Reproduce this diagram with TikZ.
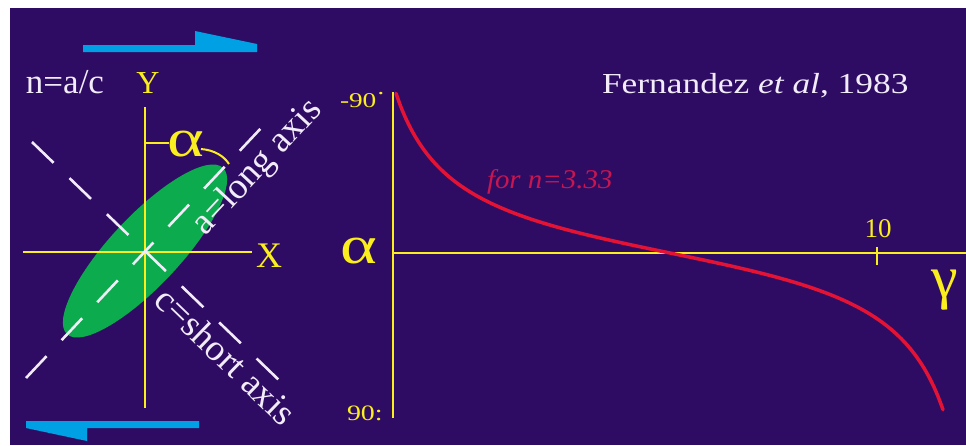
\documentclass[tikz,border=0pt]{standalone}
\usepackage{fontspec}
\setmainfont{Liberation Serif}
\definecolor{bgpurple}{RGB}{47,12,99}
\definecolor{ylw}{RGB}{250,238,30}
\definecolor{skyblue}{RGB}{0,160,228}
\definecolor{ellgreen}{RGB}{12,172,78}
\definecolor{crvred}{RGB}{228,18,52}
\definecolor{lblred}{RGB}{200,22,80}
\definecolor{txtwhite}{RGB}{242,236,250}
\begin{document}
\begin{tikzpicture}[x=1pt,y=-1pt,
  lbl/.style={inner sep=0pt, outer sep=0pt},
  whitetxt/.style={lbl, text=txtwhite},
  yeltxt/.style={lbl, text=ylw},
  bigsym/.style={yeltxt, font=\fontsize{54}{60}\selectfont},
  dashaxis/.style={draw=txtwhite, line width=2.6pt, dash pattern=on 30pt off 22pt},
  thinaxis/.style={draw=ylw, line width=1.5pt},
  thickaxis/.style={draw=ylw, line width=2.8pt},
  anglemark/.style={draw=ylw, line width=2pt},
  sheararrow/.style={fill=skyblue}]
\useasboundingbox (0,0) rectangle (966,445);
\fill[white] (0,0) rectangle (966,445);
\fill[bgpurple] (10,8) rectangle (966,445);

% shear arrows
\fill[sheararrow] (83,45) -- (195,45) -- (195,31) -- (257,44) -- (257,52) -- (83,52) -- cycle;
\fill[sheararrow] (26,421) -- (199,421) -- (199,428) -- (87,428) -- (87,441) -- (26,428) -- cycle;

% ellipse
\fill[ellgreen, rotate around={46.8:(145,251)}] (145,251) ellipse (114pt and 35pt);

% left axes
\coordinate (ytop) at (145,107);
\coordinate (ybot) at (145,408);
\coordinate (xleft) at (23,252);
\coordinate (xright) at (252,252);
\draw[thinaxis] (ytop) -- (ybot);
\draw[thinaxis] (xleft) -- (xright);

% dashed ellipse axes
\coordinate (la1) at (26,378);
\coordinate (la2) at (263,126);
\coordinate (sa1) at (32,142);
\coordinate (sa2) at (282,383);
\draw[dashaxis] (la1) -- (la2);
\draw[dashaxis] (sa1) -- (sa2);

% angle mark
\coordinate (am1) at (145,143);
\coordinate (am2) at (169,143);
\coordinate (am3) at (201,149);
\coordinate (am4) at (229,164);
\draw[anglemark] (am1) -- (am2);
\draw[anglemark] (am3) .. controls (214,150) and (224,156) .. (am4);

% left labels
\node[whitetxt, anchor=base, font=\fontsize{35}{40}\selectfont] (nac) at (65,93) {n=a/c};
\node[yeltxt, anchor=base, font=\fontsize{32}{38}\selectfont] (ylab) at (148,93) {Y};
\node[bigsym] (alphaL) at (186,144) {\scalebox{1.3}[1]{α}};
\node[yeltxt, anchor=base, font=\fontsize{36}{42}\selectfont] (xlab) at (269,267) {X};
\node[whitetxt, rotate=47, font=\fontsize{37}{42}\selectfont] (along) at (258,168) {a=long axis};
\node[whitetxt, rotate=-44, font=\fontsize{37}{42}\selectfont] (cshort) at (226,356) {c=short axis};

% right graph
\coordinate (vtop) at (393,92);
\coordinate (vbot) at (393,418);
\coordinate (hleft) at (393,253);
\coordinate (hright) at (966,253);
\coordinate (tk1) at (877,247);
\coordinate (tk2) at (877,265);
\draw[thickaxis] (vtop) -- (vbot);
\draw[thickaxis] (hleft) -- (hright);
\draw[ylw, line width=2.5pt] (tk1) -- (tk2);

\draw[crvred, line width=3.5pt, line cap=round] plot[domain=-274:273, samples=120, smooth]
  ({670+\x},{253+43.5*tan(deg(\x/210))});

\node[yeltxt, anchor=base west] (m90) at (340,107) {\scalebox{1.3}[1]{\fontsize{21}{25}\selectfont -90\raisebox{0.3em}{·}}};
\node[yeltxt, anchor=base west] (p90) at (347,420) {\scalebox{1.27}[1]{\fontsize{22}{26}\selectfont 90:}};
\node[bigsym] (alphaR) at (359,251) {\scalebox{1.3}[1]{α}};
\node[yeltxt, anchor=base, font=\fontsize{27}{32}\selectfont] (ten) at (878,237) {10};
\node[yeltxt, font=\fontsize{60}{66}\selectfont] (gam) at (945,290) {γ};
\node[lbl, text=lblred, anchor=base west] (forn) at (487,188) {\scalebox{1.07}[1]{\fontsize{27}{32}\selectfont\itshape for n=3.33}};
\node[whitetxt, anchor=base west] (ref) at (602,93) {\scalebox{1.22}[1]{\fontsize{29}{34}\selectfont Fernandez \textit{et al}, 1983}};
\end{tikzpicture}
\end{document}
